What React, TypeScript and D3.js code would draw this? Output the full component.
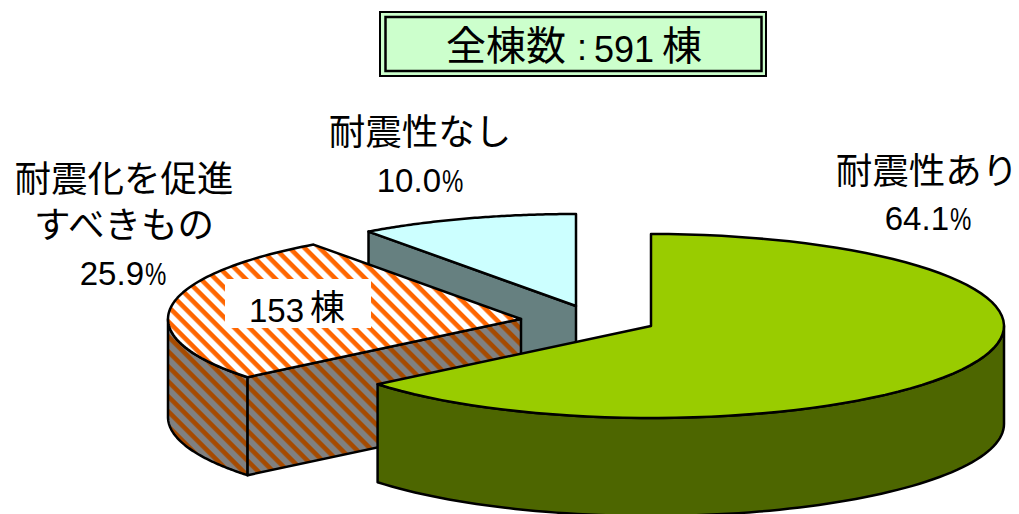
import React from "react";
import * as d3 from "d3";

// Building counts by seismic-resistance status
const sliceNames = ["耐震性あり", "耐震化を促進すべきもの", "耐震性なし"];
const sharePercent = [64.1, 25.9, 10.0];
const totalBuildings = 591;
const promotedBuildings = 153;

const WIDTH = 1019;
const HEIGHT = 514;
const RX = 353;
const RY = 92;
const DEPTH = 98;
const LATIN_FONT = "'Liberation Sans', sans-serif";
const CJK_FONT = "'Noto Sans CJK JP', sans-serif";

// Exploded centre of each slice on the canvas
const centres = [
  { x: 651, y: 326 },
  { x: 521, y: 319 },
  { x: 576, y: 306 },
];
const topFills = ["#99CC00", "url(#hatchTop)", "#CCFFFF"];
const wallFills = ["#4D6600", "url(#hatchWall)", "#668080"];

const arcs = d3
  .pie<number>()
  .sort(null)
  .startAngle(0)
  .endAngle(2 * Math.PI)(sharePercent);

type Pt = [number, number];
const rim = (c: { x: number; y: number }, a: number, dy = 0): Pt => [
  c.x + RX * Math.sin(a),
  c.y - RY * Math.cos(a) + dy,
];
const sweep = (c: { x: number; y: number }, a0: number, a1: number, dy = 0): Pt[] =>
  d3.range(0, 81).map((i) => rim(c, a0 + ((a1 - a0) * i) / 80, dy));
const path = d3.line<Pt>();

function Slice({ index }: { index: number }) {
  const c = centres[index];
  const { startAngle, endAngle } = arcs[index];
  const top = [[c.x, c.y] as Pt, ...sweep(c, startAngle, endAngle)];
  const walls: Pt[][] = [];
  // Curved outer wall: only the part that faces the viewer (90° to 270°)
  const a0 = Math.max(startAngle, Math.PI / 2);
  const a1 = Math.min(endAngle, (3 * Math.PI) / 2);
  if (a1 > a0) walls.push([...sweep(c, a0, a1), ...sweep(c, a1, a0, DEPTH)]);
  // Flat cut face: visible when it runs from the lower-left rim back to the centre
  if (index === 1 || index === 2) {
    const p = rim(c, startAngle);
    walls.push([p, [c.x, c.y], [c.x, c.y + DEPTH], [p[0], p[1] + DEPTH]]);
  }
  return (
    <g stroke="#000" strokeWidth={2.5} strokeLinejoin="round">
      {walls.map((w, i) => (
        <path key={i} d={path(w) + "Z"} fill={wallFills[index]} />
      ))}
      <path d={path(top) + "Z"} fill={topFills[index]} />
    </g>
  );
}

function Name({ x, y, text }: { x: number; y: number; text: string }) {
  return (
    <text x={x} y={y} textAnchor="middle" fontFamily={CJK_FONT} fontSize={36.5} fill="#000">
      {text}
    </text>
  );
}

// Percentage line: tall Latin digits followed by a condensed percent sign
function Percent({ x, y, value }: { x: number; y: number; value: number }) {
  const digits = value.toFixed(1);
  return (
    <g>
      <text x={x + 21} y={y} textAnchor="end" fontFamily={LATIN_FONT} fontSize={33} fill="#000">
        {digits}
      </text>
      <text
        transform={`translate(${x + 22},${y}) scale(0.8,1.05)`}
        fontFamily={LATIN_FONT}
        fontSize={30}
        fill="#000"
      >
        %
      </text>
    </g>
  );
}

export default function App() {
  return (
    <svg
      width={WIDTH}
      height={HEIGHT}
      style={{ position: "fixed", left: 0, top: 0, display: "block" }}
    >
      <defs>
        <pattern id="hatchTop" width={10.6} height={10.6} patternUnits="userSpaceOnUse" patternTransform="rotate(45)">
          <rect width={10.6} height={10.6} fill="#fff" />
          <rect width={10.6} height={4.6} fill="#FF6600" />
        </pattern>
        <pattern id="hatchWall" width={10.6} height={10.6} patternUnits="userSpaceOnUse" patternTransform="rotate(45)">
          <rect width={10.6} height={10.6} fill="#808080" />
          <rect width={10.6} height={4.6} fill="#A64A00" />
        </pattern>
      </defs>
      <rect width={WIDTH} height={HEIGHT} fill="#fff" />

      {/* Title box with a double border */}
      <rect x={380} y={12} width={386} height={64} fill="#CCFFCC" stroke="#000" strokeWidth={2} />
      <rect x={385.5} y={17} width={376} height={54} fill="#CCFFCC" stroke="#000" strokeWidth={2.5} />
      <text x={446} y={60} fontFamily={CJK_FONT} fontSize={40}>
        全棟数
      </text>
      <text x={577} y={60} fontFamily={LATIN_FONT} fontSize={36}>
        :
      </text>
      <text x={594} y={62} fontFamily={LATIN_FONT} fontSize={36}>
        {totalBuildings}
      </text>
      <text x={662} y={60} fontFamily={CJK_FONT} fontSize={40}>
        棟
      </text>

      {[2, 1, 0].map((i) => (
        <Slice key={i} index={i} />
      ))}

      <rect x={225} y={279} width={146} height={49} fill="#fff" />
      <text x={249} y={322} fontFamily={LATIN_FONT} fontSize={33}>
        {promotedBuildings}
      </text>
      <text x={310} y={320} fontFamily={CJK_FONT} fontSize={35}>
        棟
      </text>

      <Name x={927} y={184} text={sliceNames[0]} />
      <Percent x={928} y={230} value={sharePercent[0]} />

      <Name x={124} y={192} text={sliceNames[1].slice(0, 6)} />
      <Name x={124} y={238} text={sliceNames[1].slice(6)} />
      <Percent x={123} y={285} value={sharePercent[1]} />

      <Name x={420} y={145} text={sliceNames[2]} />
      <Percent x={420} y={192} value={sharePercent[2]} />
    </svg>
  );
}
